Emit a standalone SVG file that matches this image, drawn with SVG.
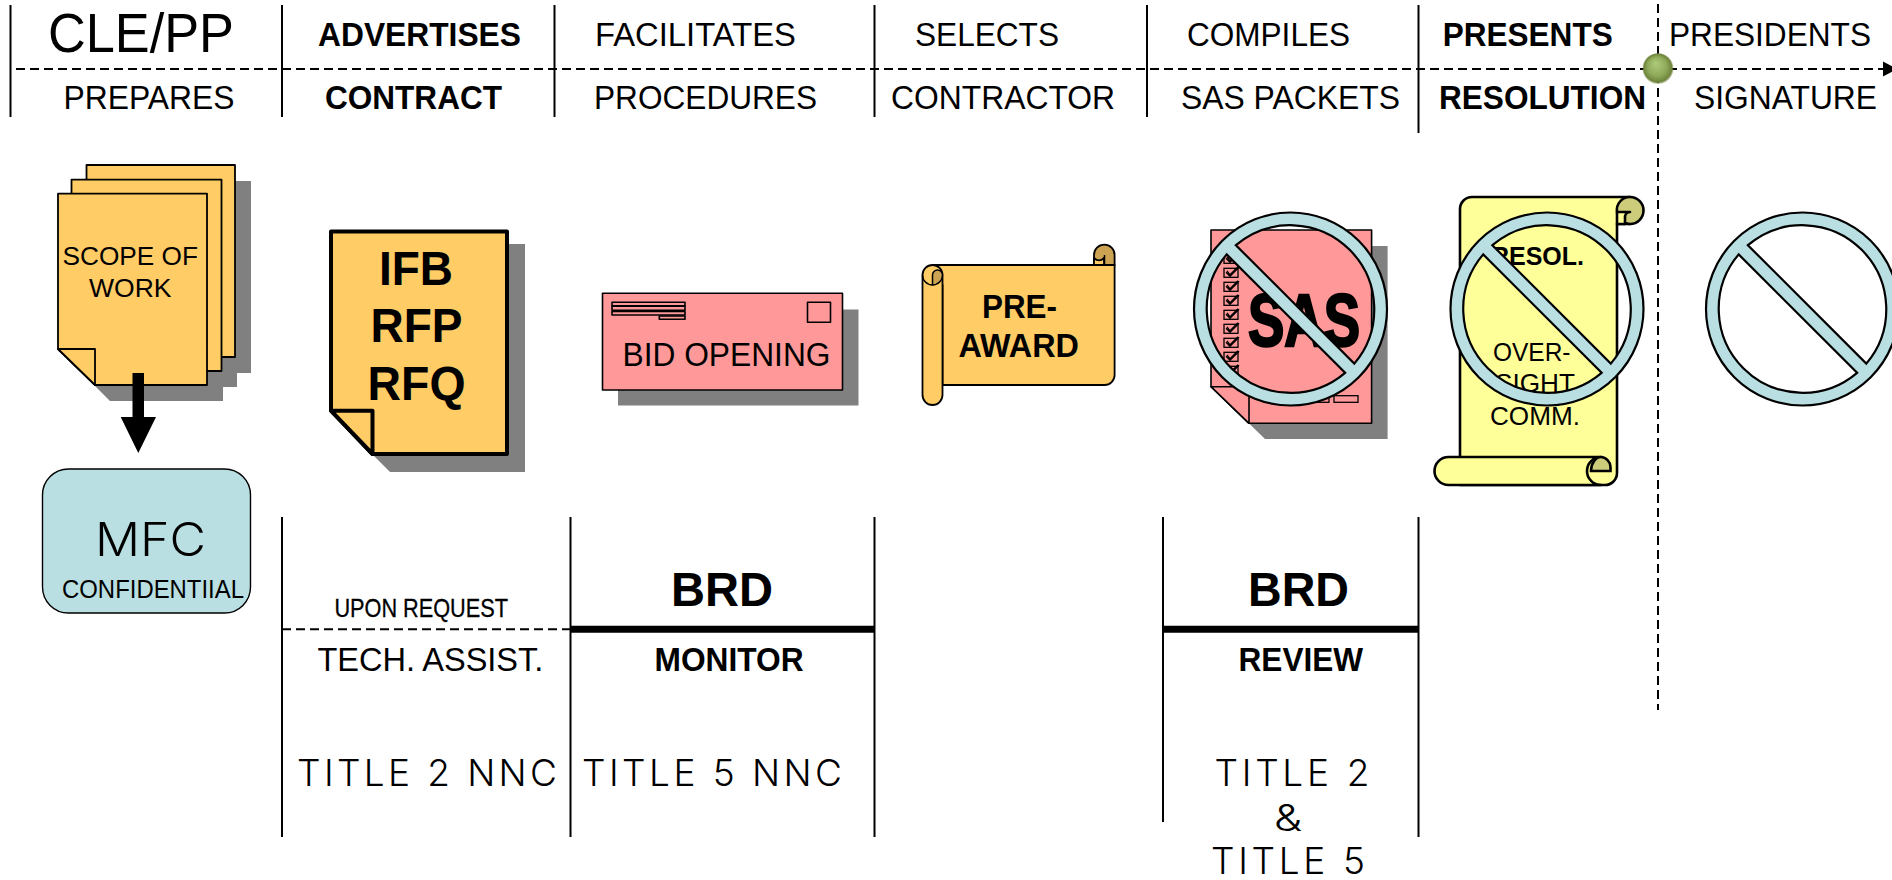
<svg xmlns="http://www.w3.org/2000/svg" xmlns:xlink="http://www.w3.org/1999/xlink" width="1892" height="880" viewBox="0 0 1892 880">
<style>
text{font-family:"Liberation Sans",Arial,sans-serif;fill:#000}
.h{font-size:32.500px}
.b{font-weight:bold}
.t{font-family:Inter,"Liberation Sans",sans-serif;font-weight:300;font-size:37px}
.d{font-size:26px}
.ln{stroke:#000;stroke-width:2;fill:none}
.dash{stroke:#000;stroke-width:2;fill:none;stroke-dasharray:9 5}
.thick{stroke:#000;stroke-width:7;fill:none}
.sh{fill:#808080}
.or{fill:#FFCC66;stroke:#000;stroke-width:1.800;stroke-linejoin:round}
.pk{fill:#FF9999;stroke:#000;stroke-width:1.600;stroke-linejoin:round}
.ye{fill:#FFFF99;stroke:#000;stroke-width:2.600;stroke-linejoin:round}
.ck{fill:none;stroke:#000;stroke-width:1.300}
</style>
<defs>
<path id="no" fill="#B9DFE2" fill-rule="evenodd" stroke="#000" stroke-width="2.200" d="M-96.500,0a96.500,96.500 0 1 0 193,0a96.500,96.500 0 1 0 -193,0ZM-54.600,-63.800A84,84 0 0 1 63.800,54.600ZM54.600,63.800A84,84 0 0 1 -63.800,-54.600Z"/>
<g id="chk"><rect class="ck" x="0" y="0" width="14" height="9"/><path class="ck" d="M2,4l4,4l9,-9M3,2.500l3,4l8,-8"/></g>
<radialGradient id="ball" cx="0.5" cy="0.5" r="0.5" fx="0.42" fy="0.32">
<stop offset="0" stop-color="#AECB7C"/><stop offset="0.6" stop-color="#8FAB5A"/><stop offset="0.9" stop-color="#6F843C"/><stop offset="1" stop-color="#6F843C" stop-opacity="0.3"/>
</radialGradient>
</defs>
<rect width="1892" height="880" fill="#fff"/>

<g id="connectors">
<line class="dash" x1="16" y1="69" x2="1884" y2="69"/>
<polygon points="1883,61.500 1897,69 1883,76.500" fill="#000"/>
<line class="ln" x1="10.500" y1="5" x2="10.500" y2="117"/>
<line class="ln" x1="282" y1="5" x2="282" y2="117"/>
<line class="ln" x1="554.500" y1="5" x2="554.500" y2="117"/>
<line class="ln" x1="874.500" y1="5" x2="874.500" y2="117"/>
<line class="ln" x1="1147" y1="5" x2="1147" y2="117"/>
<line class="ln" x1="1418.500" y1="5" x2="1418.500" y2="133"/>
<line class="dash" x1="1658" y1="4" x2="1658" y2="710"/>
<line class="ln" x1="282" y1="517" x2="282" y2="837"/>
<line class="ln" x1="570.500" y1="517" x2="570.500" y2="837"/>
<line class="ln" x1="874.500" y1="517" x2="874.500" y2="837"/>
<line class="ln" x1="1163" y1="517" x2="1163" y2="822"/>
<line class="ln" x1="1418.500" y1="517" x2="1418.500" y2="837"/>
<line class="dash" x1="282" y1="629.300" x2="570" y2="629.300"/>
<line class="thick" x1="570" y1="629.300" x2="875" y2="629.300"/>
<line class="thick" x1="1163" y1="629.300" x2="1419" y2="629.300"/>
</g>

<g id="header">
<text x="48" y="51.700" font-size="55" textLength="186" lengthAdjust="spacingAndGlyphs">CLE/PP</text>
<text class="h" x="63.500" y="109.300" textLength="171" lengthAdjust="spacingAndGlyphs">PREPARES</text>
<text class="h b" x="318" y="45.700" textLength="203" lengthAdjust="spacingAndGlyphs">ADVERTISES</text>
<text class="h b" x="325" y="109.300" textLength="177" lengthAdjust="spacingAndGlyphs">CONTRACT</text>
<text class="h" x="595" y="45.700" textLength="201" lengthAdjust="spacingAndGlyphs">FACILITATES</text>
<text class="h" x="594" y="109.300" textLength="223" lengthAdjust="spacingAndGlyphs">PROCEDURES</text>
<text class="h" x="915" y="45.700" textLength="144" lengthAdjust="spacingAndGlyphs">SELECTS</text>
<text class="h" x="891" y="109.300" textLength="224" lengthAdjust="spacingAndGlyphs">CONTRACTOR</text>
<text class="h" x="1187" y="45.700" textLength="163" lengthAdjust="spacingAndGlyphs">COMPILES</text>
<text class="h" x="1181" y="109.300" textLength="219" lengthAdjust="spacingAndGlyphs">SAS PACKETS</text>
<text class="h b" x="1442.700" y="45.700" textLength="170" lengthAdjust="spacingAndGlyphs">PRESENTS</text>
<text class="h b" x="1439" y="109.300" textLength="207" lengthAdjust="spacingAndGlyphs">RESOLUTION</text>
<text class="h" x="1669" y="45.700" textLength="202" lengthAdjust="spacingAndGlyphs">PRESIDENTS</text>
<text class="h" x="1694" y="109.300" textLength="183" lengthAdjust="spacingAndGlyphs">SIGNATURE</text>
</g>
<circle id="milestone" cx="1658" cy="68.500" r="15.500" fill="url(#ball)"/>

<g id="scope-of-work">
<path class="sh" d="M102,181H251V373H237V387H223V401H110L74,365V210H87V195H102Z"/>
<path class="or" d="M86.500,165H235V357H86.500Z"/>
<path class="or" d="M71.500,179.700H221.500V371H81L71.500,362Z"/>
<path class="or" d="M58,193.700H207V385H95L58,349Z"/>
<path class="or" d="M58,349H95V385Z"/>
<text class="d" x="62.500" y="264.700" textLength="135.500" lengthAdjust="spacingAndGlyphs">SCOPE OF</text>
<text class="d" x="89" y="296.700" textLength="82.500" lengthAdjust="spacingAndGlyphs">WORK</text>
</g>
<polygon id="arrow" points="132.500,373 144,373 144,417 156,417 138.300,453 120.700,417 132.500,417" fill="#000"/>

<g id="mfc">
<rect x="42.500" y="469" width="208" height="144" rx="26" fill="#B9DFE2" stroke="#000" stroke-width="1.400"/>
<text class="t" x="95" y="556" style="font-size:46px" textLength="111" lengthAdjust="spacingAndGlyphs">MFC</text>
<text x="62" y="598" font-size="25" textLength="182" lengthAdjust="spacingAndGlyphs">CONFIDENTIIAL</text>
</g>

<g id="ifb-rfp-rfq">
<path class="sh" d="M348,244H525V472H390L372,454L348,430Z"/>
<path class="or" style="stroke-width:4" d="M331,231.500H507V454H372.500L331,410.700Z"/>
<path class="or" style="stroke-width:4" d="M331,410.700H372.500V454Z"/>
<g class="b" font-size="48">
<text x="379" y="285" textLength="74" lengthAdjust="spacingAndGlyphs">IFB</text>
<text x="370.500" y="342" textLength="92" lengthAdjust="spacingAndGlyphs">RFP</text>
<text x="367.500" y="400" textLength="98" lengthAdjust="spacingAndGlyphs">RFQ</text>
</g>
</g>

<g id="bid-opening">
<rect class="sh" x="618" y="309.500" width="240.500" height="96"/>
<rect class="pk" x="602.500" y="293.300" width="240" height="96.700"/>
<rect class="pk" x="612" y="302.300" width="73" height="3.500"/>
<rect class="pk" x="612" y="306.300" width="73" height="4"/>
<rect class="pk" x="612" y="311.500" width="73" height="3.500"/>
<rect class="pk" x="659.300" y="316" width="25.700" height="3.300"/>
<rect class="pk" x="807.500" y="302.300" width="23" height="20"/>
<text x="622.500" y="365.700" font-size="33" textLength="208" lengthAdjust="spacingAndGlyphs">BID OPENING</text>
</g>

<g id="pre-award">
<path class="or" d="M932.500,265H1114.600V375a10,10 0 0 1 -10,10H942.500V285Z"/>
<path d="M1094,265V255a10.300,10.300 0 1 1 20.600,0V265Z" fill="#CCA352" stroke="#000" stroke-width="1.800"/>
<path class="or" d="M1094,258c3,3 7,3 10,0V265H1094Z"/>
<path class="ln" style="stroke-width:1.500" d="M1104.500,265V255"/>
<path class="or" d="M932.500,265a10,10 0 0 0 -10,10V395a10,10 0 0 0 20,0V275a10,10 0 0 0 -10,-10Z"/>
<path d="M932.500,285a10,10 0 0 0 10,-10a5,5 0 0 0 -10,0Z" fill="#CCA352" stroke="#000" stroke-width="1.500"/>
<path class="ln" style="stroke-width:1.500" d="M922.500,275a10,10 0 0 0 10,10"/>
<g class="b" font-size="34">
<text x="982" y="318" textLength="75" lengthAdjust="spacingAndGlyphs">PRE-</text>
<text x="958.500" y="357" textLength="120.500" lengthAdjust="spacingAndGlyphs">AWARD</text>
</g>
</g>

<g id="sas-packets">
<path class="sh" d="M1228,246H1387.600V439H1265L1228,403Z"/>
<path class="pk" d="M1211,230H1371.600V423.300H1249L1211,386.700Z"/>
<path class="pk" d="M1211,386.700H1249V423.300Z"/>
<use xlink:href="#chk" href="#chk" x="1224" y="254.300"/>
<use xlink:href="#chk" href="#chk" x="1224" y="268.300"/>
<use xlink:href="#chk" href="#chk" x="1224" y="282.300"/>
<use xlink:href="#chk" href="#chk" x="1224" y="296.300"/>
<use xlink:href="#chk" href="#chk" x="1224" y="310.300"/>
<use xlink:href="#chk" href="#chk" x="1224" y="324.300"/>
<use xlink:href="#chk" href="#chk" x="1224" y="338.300"/>
<use xlink:href="#chk" href="#chk" x="1224" y="352.300"/>
<use xlink:href="#chk" href="#chk" x="1224" y="366.300"/>
<rect class="ck" x="1305" y="395.700" width="24" height="6.600"/>
<rect class="ck" x="1334" y="395.700" width="24" height="6.600"/>
<text class="b" x="1248" y="345.500" font-size="74" textLength="112" lengthAdjust="spacingAndGlyphs" stroke="#000" stroke-width="2.500">SAS</text>
<use xlink:href="#no" href="#no" x="1290.500" y="309"/>
</g>

<g id="resolution">
<path class="ye" d="M1472,197H1630V224H1617V473a12,12 0 0 1 -12,12H1460V209a12,12 0 0 1 12,-12Z"/>
<path d="M1617,212a13,13 0 0 1 13,-15a13.500,13.500 0 0 1 0,27a13,13 0 0 1 -13,-12Z" fill="#CCCC7A" stroke="#000" stroke-width="2.600"/>
<path class="ye" d="M1617,212H1630c0,0 -4,0 -5,4V224H1617Z"/>
<path class="ye" d="M1601,485H1448.500a14,14 0 0 1 0,-28H1601a14,14 0 0 0 0,28Z"/>
<path d="M1591,471c0,-8 5,-14 10,-14c5,0 9.500,5 9.500,10v4Z" fill="#CCCC7A" stroke="#000" stroke-width="2.600"/>
<text class="d b" x="1491" y="265" textLength="93" lengthAdjust="spacingAndGlyphs">RESOL.</text>
<text class="d" x="1493" y="361" textLength="77.500" lengthAdjust="spacingAndGlyphs">OVER-</text>
<text class="d" x="1495" y="391.700" textLength="80" lengthAdjust="spacingAndGlyphs">SIGHT</text>
<text class="d" x="1490" y="425" textLength="90" lengthAdjust="spacingAndGlyphs">COMM.</text>
<use xlink:href="#no" href="#no" x="1547" y="309"/>
</g>

<g id="signature-blocked">
<use xlink:href="#no" href="#no" x="1802.500" y="309"/>
</g>

<g id="lower-labels">
<text x="334.400" y="616.700" font-size="26" stroke="#000" stroke-width="0.300" textLength="173.600" lengthAdjust="spacingAndGlyphs">UPON REQUEST</text>
<text class="b" x="671" y="605.700" font-size="48" textLength="102" lengthAdjust="spacingAndGlyphs">BRD</text>
<text x="317.400" y="670.700" font-size="32.500" textLength="226" lengthAdjust="spacingAndGlyphs">TECH. ASSIST.</text>
<text class="b" x="654.600" y="670.700" font-size="32.500" textLength="149" lengthAdjust="spacingAndGlyphs">MONITOR</text>
<text class="t" x="297" y="785.700" textLength="260">TITLE 2 NNC</text>
<text class="t" x="582" y="785.700" textLength="260">TITLE 5 NNC</text>
<text class="b" x="1248" y="605.700" font-size="48" textLength="101" lengthAdjust="spacingAndGlyphs">BRD</text>
<text class="b" x="1238.600" y="670.700" font-size="32.500" textLength="124.400" lengthAdjust="spacingAndGlyphs">REVIEW</text>
<text class="t" x="1214.500" y="785.700" textLength="155">TITLE 2</text>
<text class="t" x="1274" y="830.700" textLength="28" lengthAdjust="spacingAndGlyphs">&amp;</text>
<text class="t" x="1211" y="874.300" textLength="154">TITLE 5</text>
</g>
</svg>
